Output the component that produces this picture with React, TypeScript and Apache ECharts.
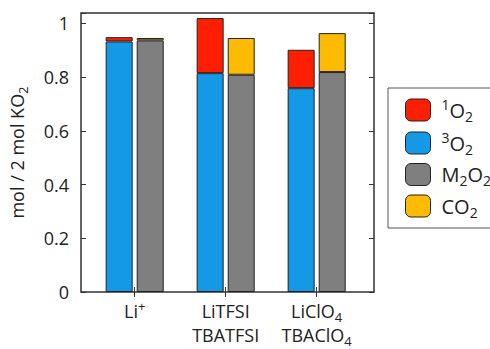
import React, { useEffect, useRef } from "react";
import * as echarts from "echarts";

const categories = ["{n|Li}{sup|+}", "{n|LiTFSI}\n{n|TBATFSI}", "{n|LiClO}{sub|4}\n{n|TBAClO}{sub|4}"];
const catPositions = [1, 2, 3];
const tripletO2 = [0.933, 0.815, 0.759];
const singletO2 = [0.016, 0.205, 0.143];
const m2o2 = [0.937, 0.809, 0.819];
const co2 = [0.009, 0.137, 0.145];
const yTicks = [0, 0.2, 0.4, 0.6, 0.8, 1];
const seriesNames = ["¹O₂", "³O₂", "M₂O₂", "CO₂"];
const legendRich: Record<string, string> = {
  "¹O₂": "{sup|1}{n|O}{sub|2}",
  "³O₂": "{sup|3}{n|O}{sub|2}",
  "M₂O₂": "{n|M}{sub|2}{n|O}{sub|2}",
  "CO₂": "{n|CO}{sub|2}",
};

const FONT = "'Open Sans', 'Noto Sans', sans-serif";
const COLORS = {
  singlet: "#ff1e00",
  triplet: "#1499e6",
  m2o2: "#7f7f7f",
  co2: "#ffbb00",
};

const rich = (size: number, lineHeight: number, shift: number) => {
  const small = Math.round(size * 0.72);
  return {
    n: { fontFamily: FONT, fontSize: size, color: "#222", lineHeight },
    sub: { fontFamily: FONT, fontSize: small, color: "#222", lineHeight: lineHeight - 2 * shift, verticalAlign: "bottom" },
    sup: { fontFamily: FONT, fontSize: small, color: "#222", lineHeight: lineHeight - 2 * shift, verticalAlign: "top" },
  };
};

export default function App() {
  const ref = useRef<HTMLDivElement>(null);
  useEffect(() => {
    if (!ref.current) return;
    const chart = echarts.init(ref.current, undefined, { renderer: "svg" });
    // [value, position] with encode so stacking happens on the y dimension
    const pts = (vals: number[]) => vals.map((v, i) => [v, catPositions[i]]);
    const border = { borderColor: "#222", borderWidth: 1 };
    const common = { type: "bar", barWidth: 27, barGap: "15%", encode: { x: 1, y: 0 } };
    chart.setOption({
      animation: false,
      grid: {
        left: 81,
        top: 13,
        width: 293,
        height: 279,
        show: true,
        borderColor: "#333",
        borderWidth: 1.5,
        backgroundColor: "transparent",
        outerBoundsMode: "none",
        containLabel: false,
      },
      legend: {
        orient: "vertical",
        left: 388,
        top: 88,
        itemWidth: 25,
        itemHeight: 22,
        itemGap: 7,
        padding: [9, 60, 9, 17],
        borderColor: "#555",
        borderWidth: 1,
        formatter: (name: string) => legendRich[name] ?? name,
        textStyle: { fontFamily: FONT, fontSize: 20, color: "#222", padding: [0, 0, 0, 6], rich: rich(20, 26, 6) },
        data: seriesNames,
        itemStyle: { borderColor: "#222", borderWidth: 1 },
      },
      xAxis: [
        {
          type: "value",
          min: 0.41,
          max: 3.63,
          position: "bottom",
          splitLine: { show: false },
          axisLine: { show: false },
          axisTick: { show: true, inside: true, length: 5, customValues: catPositions, lineStyle: { color: "#333" } },
          axisLabel: {
            customValues: catPositions,
            formatter: (v: number) => categories[catPositions.indexOf(Math.round(v))] ?? "",
            fontFamily: FONT,
            fontSize: 18,
            color: "#222",
            lineHeight: 24,
            margin: 7,
            rich: rich(18, 24, 4),
          },
        },
        {
          type: "value",
          min: 0.41,
          max: 3.63,
          position: "top",
          splitLine: { show: false },
          axisLine: { show: false },
          axisTick: { show: true, inside: true, length: 5, customValues: catPositions, lineStyle: { color: "#333" } },
          axisLabel: { show: false },
        },
      ],
      yAxis: [
        {
          type: "value",
          min: 0,
          max: 1.039,
          interval: 0.2,
          position: "left",
          name: "{n|mol / 2 mol KO}{sub|2}",
          nameLocation: "middle",
          nameGap: 52,
          nameTextStyle: { fontFamily: FONT, fontSize: 18, color: "#222", rich: rich(18, 24, 5) },
          splitLine: { show: false },
          axisLine: { show: false },
          axisTick: { show: true, inside: true, length: 5, lineStyle: { color: "#333" } },
          axisLabel: {
            customValues: yTicks,
            formatter: (v: number) => String(Math.round(v * 10) / 10),
            fontFamily: FONT,
            fontSize: 18,
            color: "#222",
            margin: 12,
          },
        },
        {
          type: "value",
          min: 0,
          max: 1.039,
          interval: 0.2,
          position: "right",
          splitLine: { show: false },
          axisLine: { show: false },
          axisTick: { show: true, inside: true, length: 5, lineStyle: { color: "#333" } },
          axisLabel: { show: false },
        },
      ],
      series: [
        { ...common, name: seriesNames[1], stack: "a", data: pts(tripletO2), itemStyle: { color: COLORS.triplet, ...border } },
        { ...common, name: seriesNames[0], stack: "a", data: pts(singletO2), itemStyle: { color: COLORS.singlet, ...border } },
        { ...common, name: seriesNames[2], stack: "b", data: pts(m2o2), itemStyle: { color: COLORS.m2o2, ...border } },
        { ...common, name: seriesNames[3], stack: "b", data: pts(co2), itemStyle: { color: COLORS.co2, ...border } },
      ],
    });
    return () => chart.dispose();
  }, []);
  return <div ref={ref} style={{ width: 490, height: 349, position: "absolute", left: 0, top: 0 }} />;
}
